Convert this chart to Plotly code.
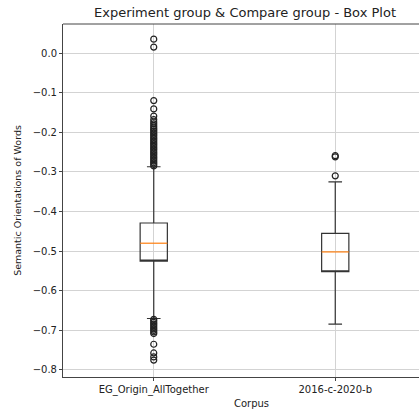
import plotly.graph_objects as go

categories = ["EG_Origin_AllTogether", "2016-c-2020-b"]
positions = [1, 2]
q1 = [-0.525, -0.552]
median = [-0.480, -0.502]
q3 = [-0.429, -0.455]
lowerfence = [-0.670, -0.684]
upperfence = [-0.287, -0.325]

outliers_eg = [0.035, 0.015, -0.120, -0.141, -0.159,
               -0.168, -0.174, -0.179, -0.184, -0.189, -0.193, -0.197, -0.201,
               -0.205, -0.209, -0.213, -0.217, -0.221, -0.225, -0.229, -0.233,
               -0.237, -0.241, -0.245, -0.249, -0.253, -0.257, -0.261, -0.265,
               -0.269, -0.273, -0.277, -0.281, -0.285,
               -0.672, -0.676, -0.680, -0.684, -0.688, -0.692, -0.696, -0.700,
               -0.704, -0.708, -0.735, -0.757, -0.767, -0.775]
outliers_cmp = [-0.259, -0.262, -0.310]
outliers = [outliers_eg, outliers_cmp]

box_width = 0.15
edge = "#333333"

fig = go.Figure()
for i in range(2):
    # box body drawn without its own dark median (median drawn in orange below)
    fig.add_trace(go.Box(
        x=[positions[i]], q1=[q1[i]], median=[q1[i]], q3=[q3[i]],
        lowerfence=[lowerfence[i]], upperfence=[upperfence[i]],
        width=box_width, whiskerwidth=0.5, boxpoints=False,
        line=dict(color=edge, width=1.2), fillcolor="rgba(0,0,0,0)",
        showlegend=False, hoverinfo="skip"))
    fig.add_trace(go.Scatter(
        x=[positions[i] - box_width / 2, positions[i] + box_width / 2],
        y=[median[i], median[i]], mode="lines",
        line=dict(color="#ff7f0e", width=1.2), showlegend=False))
    fig.add_trace(go.Scatter(
        x=[positions[i]] * len(outliers[i]), y=outliers[i], mode="markers",
        marker=dict(symbol="circle-open", size=6, color="#222222",
                    line=dict(width=1.2, color="#222222")),
        showlegend=False))

font = "DejaVu Sans"
W = 440
fig.add_shape(type="line", xref="paper", yref="paper", x0=0, x1=1, y0=1, y1=1,
              line=dict(color="#444444", width=1))
fig.update_layout(
    width=W, height=415,
    margin=dict(l=63, r=0, t=24, b=38),
    paper_bgcolor="white", plot_bgcolor="white",
    font=dict(family=font, size=10, color="#222222"),
    title=dict(text="Experiment group & Compare group - Box Plot",
               x=245 / W, xanchor="center", y=0.982, yanchor="top",
               font=dict(family=font, size=13, color="#222222")),
    xaxis=dict(range=[0.5, 0.5 + (W - 63) / 181.5], tickvals=positions, ticktext=categories,
               showgrid=True, gridcolor="#d3d3d3", gridwidth=1,
               showline=True, linecolor="#444444", linewidth=1, mirror=False,
               ticks="outside", ticklen=3, tickcolor="#444444",
               zeroline=False,
               title=dict(text="Corpus", font=dict(size=10), standoff=4),
               tickfont=dict(size=10)),
    yaxis=dict(range=[-0.8177, 0.0733], tickvals=[0.0, -0.1, -0.2, -0.3, -0.4, -0.5, -0.6, -0.7, -0.8],
               tickformat=".1f",
               showgrid=True, gridcolor="#d3d3d3", gridwidth=1,
               showline=True, linecolor="#444444", linewidth=1, mirror=False,
               ticks="outside", ticklen=3, tickcolor="#444444",
               zeroline=False,
               title=dict(text="Semantic Orientations of Words", font=dict(size=9.5), standoff=9),
               tickfont=dict(size=10)),
)
fig.write_html("out.html", config={"displayModeBar": False},
               post_script="document.body.style.margin='0';document.body.style.overflow='hidden';"
                           "document.documentElement.style.overflow='hidden';")
